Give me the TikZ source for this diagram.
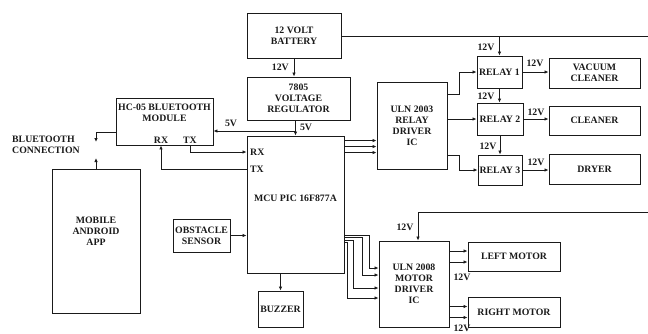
\documentclass[tikz,border=0pt]{standalone}
\usepackage{fontspec}
\setmainfont{Liberation Serif}
\usetikzlibrary{calc,arrows.meta}
\definecolor{ink}{HTML}{1A1A1A}

\begin{document}
\begin{tikzpicture}[x=1pt, y=-1pt,
    every node/.style={font=\fontsize{9.8}{11}\selectfont\bfseries, text=ink},
    blk/.style={draw=ink, line width=0.9pt, align=center, inner sep=1pt},
    lbl/.style={inner sep=0pt},
    wire/.style={draw=ink, line width=0.8pt},
    arr/.style={wire, -{Latex[length=4pt, width=3.5pt]}}]
\useasboundingbox (0,0) rectangle (648,333);

% power
\node[blk, minimum width=94pt, minimum height=45pt] (battery) at (294,35.5) {12 VOLT\\BATTERY};
\node[blk, minimum width=103pt, minimum height=43pt] (regulator) at (298.5,98.5) {7805\\VOLTAGE\\REGULATOR};

% bluetooth side
\node[blk, minimum width=97pt, minimum height=47pt] (hc05) at (164.5,121.5) {};
\node[lbl, align=center] (hc05-title) at (164.5,112.5) {HC-05 BLUETOOTH\\MODULE};
\node[lbl] (hc-rx) at (161,140) {RX};
\node[lbl] (hc-tx) at (190,140) {TX};
\node[blk, minimum width=88pt, minimum height=144pt] (mobile) at (96,241) {MOBILE\\ANDROID\\APP\\[8pt]};
\node[lbl, align=left, anchor=west] (btconn) at (12,145) {BLUETOOTH\\CONNECTION};

% controller
\node[blk, minimum width=97pt, minimum height=137pt] (mcu) at (295.5,204.5) {};
\node[lbl] (mcu-name) at (295.5,198) {MCU PIC 16F877A};
\node[lbl, anchor=west] (mcu-rx) at (250,152) {RX};
\node[lbl, anchor=west] (mcu-tx) at (250,169) {TX};
\node[blk, minimum width=57pt, minimum height=33pt, inner sep=0pt] (obstacle) at (201.5,235.5) {OBSTACLE\\SENSOR};
\node[blk, minimum width=45pt, minimum height=36pt] (buzzer) at (280.5,309) {BUZZER};

% relay stage
\node[blk, minimum width=70pt, minimum height=87pt] (uln3) at (412,125.5) {ULN 2003\\RELAY\\DRIVER\\IC};
\node[blk, minimum width=45pt, minimum height=32pt] (relay1) at (499.5,72) {RELAY 1};
\node[blk, minimum width=46pt, minimum height=32pt] (relay2) at (500,119) {RELAY 2};
\node[blk, minimum width=44pt, minimum height=30pt] (relay3) at (500,170) {RELAY 3};
\node[blk, minimum width=91pt, minimum height=30pt] (vacuum) at (594.5,73) {VACUUM\\CLEANER};
\node[blk, minimum width=91pt, minimum height=29pt] (cleaner) at (594.5,120.5) {CLEANER};
\node[blk, minimum width=91pt, minimum height=30pt] (dryer) at (594.5,169) {DRYER};

% motor stage
\node[blk, minimum width=70pt, minimum height=86pt] (uln8) at (414,284) {ULN 2008\\MOTOR\\DRIVER\\IC};
\node[blk, minimum width=92pt, minimum height=29pt] (lmotor) at (514,256.5) {LEFT MOTOR};
\node[blk, minimum width=92pt, minimum height=30pt] (rmotor) at (514,312) {RIGHT MOTOR};

\coordinate (bus-top) at (648,36);
\coordinate (bus-low) at (648,212);
\coordinate (bt-down) at (96,142);
\coordinate (bt-up) at (96,158);
\coordinate (v5) at (295.5,131);

% supply lines
\draw[arr] (battery.south) -- (battery.south |- regulator.north);
\node[lbl, anchor=east] (v12a) at (289,67) {12V};
\draw[arr] (mcu.north |- regulator.south) -- (mcu.north);
\draw[arr] (v5) -- (v5 -| hc05.east);
\node[lbl] (v5a) at (231,123) {5V};
\node[lbl] (v5b) at (306,127) {5V};
\draw[wire] (battery.east |- bus-top) -- (bus-top);
\draw[arr] (relay1.north |- bus-top) -- (relay1.north);
\draw[arr] (relay1.south) -- (relay1.south |- relay2.north);
\draw[arr] (relay2.south) -- (relay2.south |- relay3.north);
\node[lbl] (v12b) at (486,47) {12V};
\node[lbl] (v12c) at (486,96) {12V};
\node[lbl] (v12d) at (488,146) {12V};

% bluetooth links
\draw[arr] ([yshift=-10.5pt]hc05.west) -| (bt-down);
\draw[arr] (mobile.north) -- (bt-up);
\draw[arr] (hc-tx |- hc05.south) |- (mcu-rx -| mcu.west);
\draw[arr] (mcu-tx -| mcu.west) -| (hc-rx |- hc05.south);

% inputs and outputs of the mcu
\draw[arr] (obstacle.east) -- (obstacle.east -| mcu.west);
\draw[arr] (mcu.south -| buzzer.north) -- (buzzer.north);
\foreach \d in {5,11,17}
    \draw[arr] ($(mcu.north east)+(0,\d)$) coordinate (p) -- (p -| uln3.west);

% relay driver outputs
\draw[arr] ($(uln3.north east)+(0,13)$) -- ++(12,0) |- (relay1.west);
\draw[arr] (uln3.east |- relay2.west) -- (relay2.west);
\draw[arr] ($(uln3.south east)+(0,-14)$) -- ++(12,0) |- (relay3.west);
\draw[arr] (relay1.east) -- (relay1.east -| vacuum.west);
\draw[arr] (relay2.east) -- (relay2.east -| cleaner.west);
\draw[arr] (relay3.east) -- (relay3.east -| dryer.west);
\node[lbl] (v12e) at (535,63) {12V};
\node[lbl] (v12f) at (536,112) {12V};
\node[lbl] (v12g) at (536,162) {12V};

% motor driver
\draw[arr] (bus-low) -| ([xshift=4pt]uln8.north);
\node[lbl] (v12h) at (405,227) {12V};
\foreach \d/\k/\e in {100/369/268, 102/362/275, 105/353/288, 107/347/298}
    \draw[arr] ($(mcu.north east)+(0,\d)$) -| (\k,\e) coordinate (q) -- (q -| uln8.west);
\foreach \m in {lmotor, rmotor}
    \foreach \d in {-5.5, 5.5} {
        \path ($(\m.west)+(0,\d)$) coordinate (t);
        \draw[arr] (t -| uln8.east) -- (t);
    }
\node[lbl] (v12i) at (462,277) {12V};
\node[lbl] (v12j) at (462,328.5) {12V};

\end{tikzpicture}
\end{document}
